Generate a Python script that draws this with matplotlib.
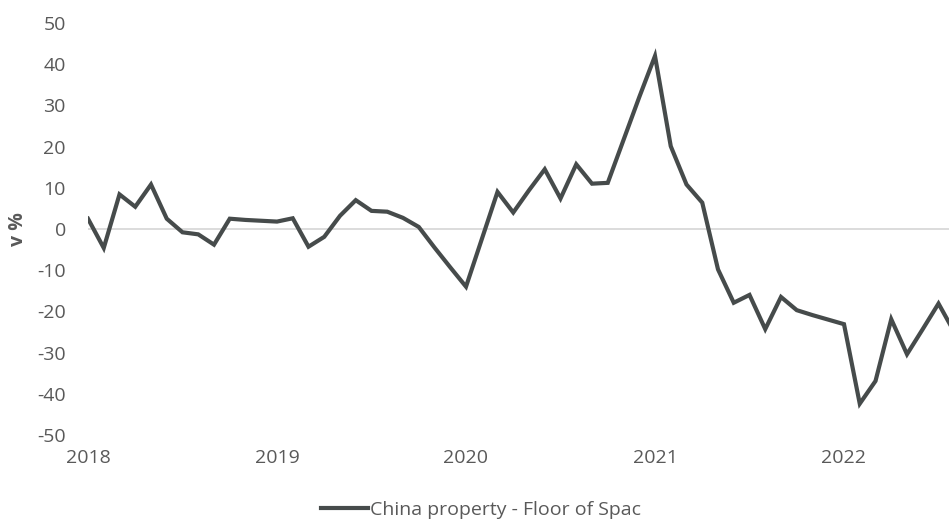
import matplotlib
matplotlib.use("Agg")
import matplotlib.pyplot as plt
import pandas as pd

plt.rcParams['font.family'] = ['Open Sans', 'DejaVu Sans']

series_name = "China property - Floor of Spac"
y_label = "v %"
start_month = "2018-01"
values = [
    2.5, -4.6, 8.4, 5.4, 10.8, 2.5, -0.8, -1.3, -3.8, 2.5, 2.2, 2.0,
    1.8, 2.6, -4.3, -1.9, 3.2, 7.0, 4.4, 4.2, 2.7, 0.5, -4.5, -9.3,
    -14.0, -2.5, 9.0, 4.0, 9.4, 14.5, 7.4, 15.7, 11.0, 11.2, 21.6, 32.0,
    42.0, 20.1, 10.8, 6.4, -9.8, -17.9, -16.0, -24.3, -16.5, -19.7, -20.9, -22.0,
    -23.1, -42.4, -36.9, -21.9, -30.4, -24.3, -18.1, -25.0,
]
x_tick_labels = ["2018", "2019", "2020", "2021", "2022"]
y_ticks = [50, 40, 30, 20, 10, 0, -10, -20, -30, -40, -50]

dates = pd.date_range(start_month, periods=len(values), freq="MS")
xnum = [d.year + (d.month - 1) / 12 for d in dates]
tick_pos = [int(t) for t in x_tick_labels]

W, H = 949, 519
fig = plt.figure(figsize=(W / 100, H / 100), dpi=100)
left = 88 / W
bottom = (H - 435) / H
top = (H - 23) / H
ax = fig.add_axes([left, bottom, 1.0 - left, top - bottom])

ax.axhline(0, color="#d9d9d9", lw=1.3, zorder=1)
line, = ax.plot(xnum, values, color="#464b4b", lw=3.0, solid_joinstyle="miter",
                zorder=3, label=series_name)

ax.set_xlim(2018.0, 2018.0 + (W - 88) / 189.0)
ax.set_ylim(-50, 50)
ax.set_yticks(y_ticks)
ax.set_yticklabels([str(v) for v in y_ticks])
ax.set_xticks(tick_pos)
ax.set_xticklabels(x_tick_labels)
ax.tick_params(axis="both", length=0, labelsize=14, colors="#595959")
ax.tick_params(axis="y", pad=16)
ax.tick_params(axis="x", pad=10)
for s in ax.spines.values():
    s.set_visible(False)

fig.text(18 / W, 1 - 229 / H, y_label, rotation=90, ha="center", va="center",
         fontsize=14, fontweight="bold", color="#595959")

leg = fig.legend(handles=[line], loc="center", bbox_to_anchor=(481 / W, 1 - 510 / H),
                 frameon=False, fontsize=14, handlelength=2.4, handletextpad=0.1,
                 labelcolor="#595959", borderpad=0)

fig.savefig("out.png", dpi=100)
